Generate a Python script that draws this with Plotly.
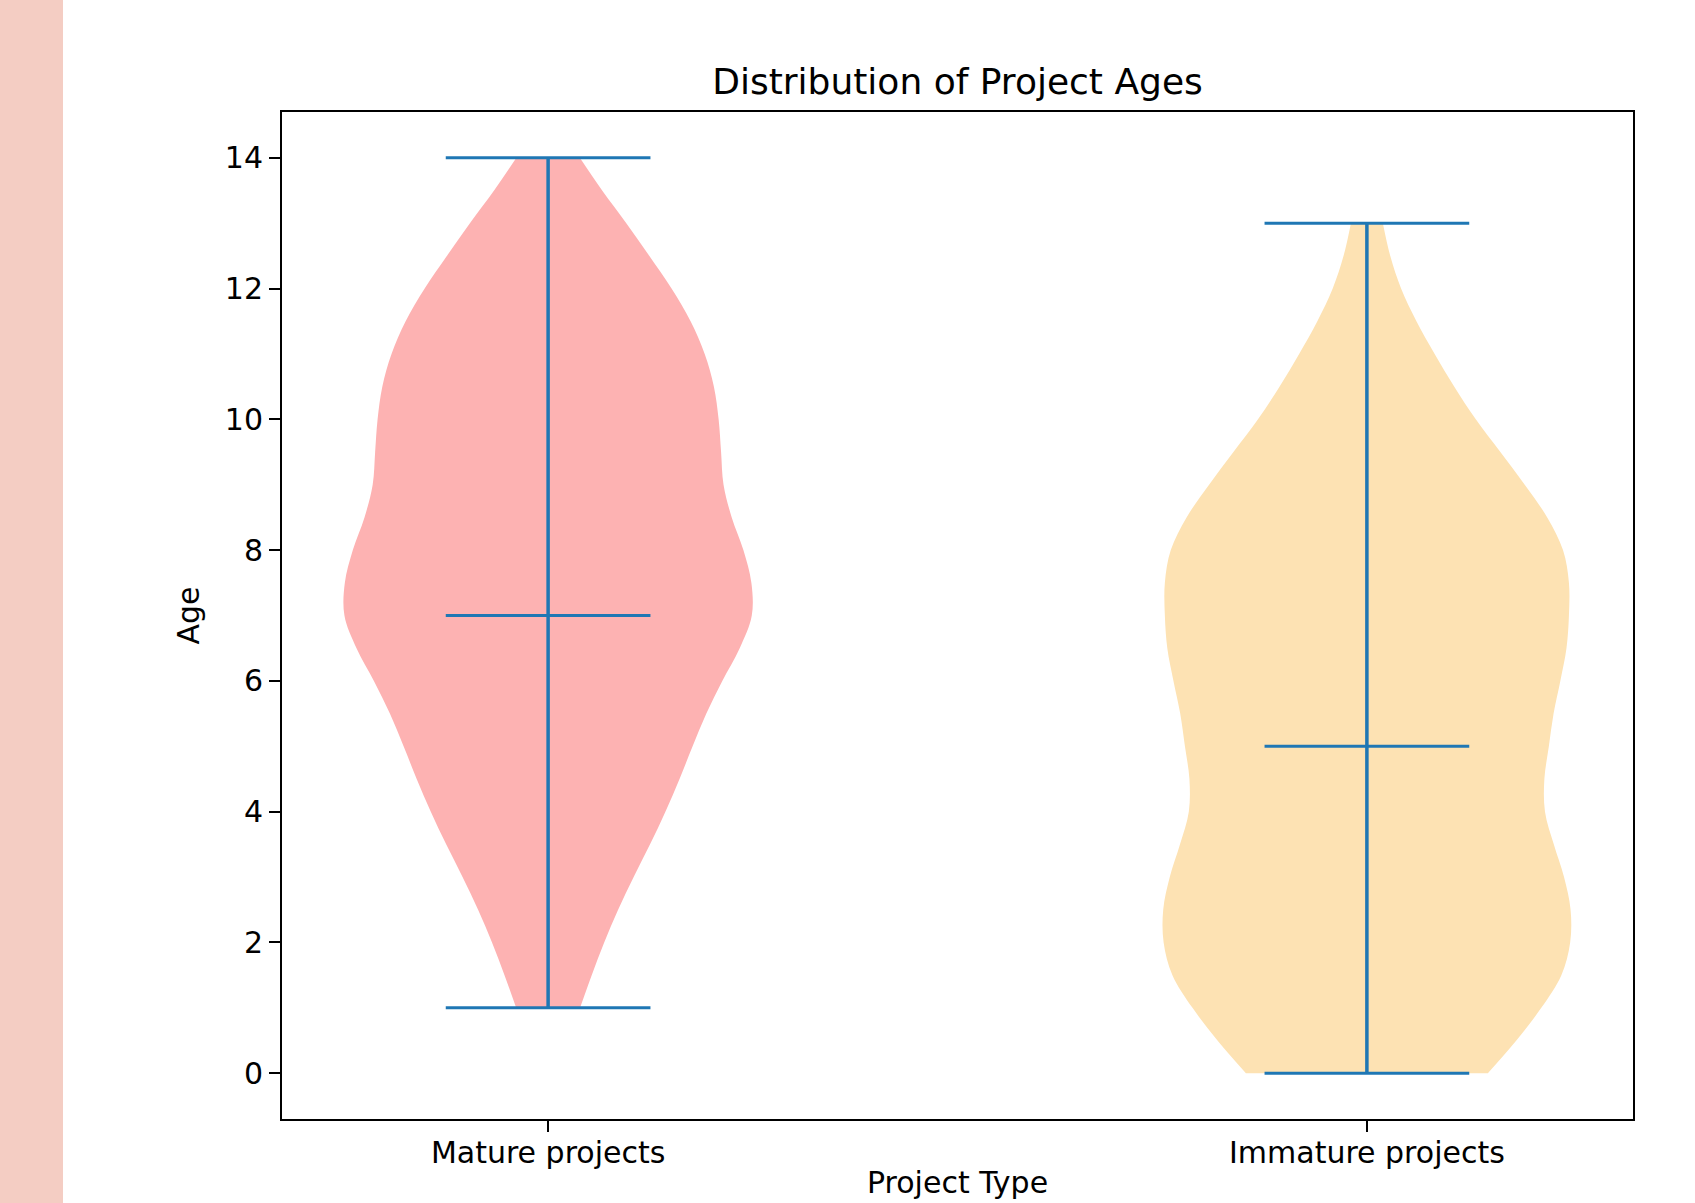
import plotly.graph_objects as go

# ---------------- data ----------------
categories = ["Mature projects", "Immature projects"]

# violin outline: relative density (1 = widest point) at each age
mature_ages = [1.0, 1.5, 2.0, 2.5, 3.0, 3.5, 4.0, 4.5, 5.0, 5.5, 6.0, 6.5, 7.0, 7.5,
               8.0, 8.5, 9.0, 9.5, 10.0, 10.5, 11.0, 11.5, 12.0, 12.5, 13.0, 13.5, 14.0]
mature_density = [0.156, 0.213, 0.274, 0.342, 0.418, 0.498, 0.573, 0.642, 0.706, 0.773,
                  0.851, 0.936, 0.995, 0.993, 0.954, 0.897, 0.857, 0.845, 0.833, 0.81,
                  0.765, 0.696, 0.603, 0.494, 0.382, 0.264, 0.155]

immature_ages = [0.0, 0.5, 1.0, 1.5, 2.0, 2.5, 3.0, 3.5, 4.0, 4.5, 5.0, 5.5, 6.0, 6.5,
                 7.0, 7.5, 8.0, 8.5, 9.0, 9.5, 10.0, 10.5, 11.0, 11.5, 12.0, 12.5, 13.0]
immature_density = [0.591, 0.73, 0.852, 0.95, 0.993, 0.995, 0.963, 0.913, 0.87, 0.867,
                    0.889, 0.912, 0.945, 0.975, 0.987, 0.987, 0.958, 0.881, 0.771, 0.652,
                    0.532, 0.427, 0.331, 0.242, 0.167, 0.114, 0.078]

age_min = [1, 0]
age_max = [14, 13]
age_mean = [7, 5]

y_ticks = [0, 2, 4, 6, 8, 10, 12, 14]

# ---------------- style ----------------
FONT = "DejaVu Sans"
fill_colors = ["#FDB2B2", "#FDE2B3"]
LINE_COLOR = "#1f77b4"
VIOLIN_HALF = 0.25
CAP_HALF = 0.125

W, H = 1695, 1203
ML, MR, MT, MB = 282, 62, 112, 84

fig = go.Figure()

profiles = [(mature_ages, mature_density), (immature_ages, immature_density)]
for pos, ((ages, dens), col) in enumerate(zip(profiles, fill_colors)):
    fig.add_trace(go.Scatter(
        x=[pos - d * VIOLIN_HALF for d in dens], y=ages, mode="lines",
        line=dict(width=0, color=col, shape="spline"),
        showlegend=False, hoverinfo="skip"))
    fig.add_trace(go.Scatter(
        x=[pos + d * VIOLIN_HALF for d in dens], y=ages, mode="lines",
        line=dict(width=0, color=col, shape="spline"),
        fill="tonextx", fillcolor=col,
        showlegend=False, hoverinfo="skip"))

# central bars
bx, by = [], []
for pos, (lo, hi) in enumerate(zip(age_min, age_max)):
    bx += [pos, pos, None]
    by += [lo, hi, None]
fig.add_trace(go.Scatter(x=bx, y=by, mode="lines",
                         line=dict(color=LINE_COLOR, width=3.5),
                         showlegend=False, hoverinfo="skip"))

# caps (min, max) and mean lines
cx, cy = [], []
for pos, (lo, hi, mu) in enumerate(zip(age_min, age_max, age_mean)):
    for v in (lo, hi, mu):
        cx += [pos - CAP_HALF, pos + CAP_HALF, None]
        cy += [v, v, None]
fig.add_trace(go.Scatter(x=cx, y=cy, mode="lines",
                         line=dict(color=LINE_COLOR, width=3),
                         showlegend=False, hoverinfo="skip"))

# left decorative strip
pw = W - ML - MR
ph = H - MT - MB
fig.add_shape(type="rect", xref="paper", yref="paper",
              x0=-ML / pw - 0.01, x1=(63 - ML) / pw, y0=-MB / ph - 0.05, y1=1 + MT / ph + 0.05,
              fillcolor="#F4CDC3", line=dict(width=0), layer="below")

# x-axis title placed just above the bottom edge so it stays fully visible
fig.add_annotation(text="Project Type", xref="paper", yref="paper",
                   x=0.5, y=-(1202 - (H - MB)) / ph, xanchor="center", yanchor="bottom",
                   showarrow=False, font=dict(family=FONT, size=30, color="black"))

axis_common = dict(
    showline=True, mirror=True, linecolor="black", linewidth=2,
    ticks="outside", ticklen=11, tickwidth=2, tickcolor="black",
    showgrid=False, zeroline=False, automargin=False,
    tickfont=dict(family=FONT, size=30, color="black"),
)

fig.update_layout(
    width=W, height=H,
    margin=dict(l=ML, r=MR, t=MT, b=MB, pad=0, autoexpand=False),
    paper_bgcolor="white", plot_bgcolor="white",
    title=dict(text="Distribution of Project Ages", x=(ML + pw / 2) / W, xanchor="center",
               xref="container", yref="container", y=1 - 81 / H, yanchor="middle",
               font=dict(family=FONT, size=36, color="black")),
    xaxis=dict(range=[-0.325, 1.325], tickvals=list(range(len(categories))),
               ticktext=categories, ticklabelstandoff=-5,
               **axis_common),
    yaxis=dict(range=[-0.7, 14.7], tickvals=y_ticks,
               ticktext=[str(t) for t in y_ticks],
               title=dict(text="Age", standoff=16,
                          font=dict(family=FONT, size=30, color="black")),
               **axis_common),
    font=dict(family=FONT, color="black"),
)

fig.write_html(
    "out.html",
    config={"displayModeBar": False},
    post_script="document.body.style.margin='0';document.body.style.overflow='hidden';",
)
